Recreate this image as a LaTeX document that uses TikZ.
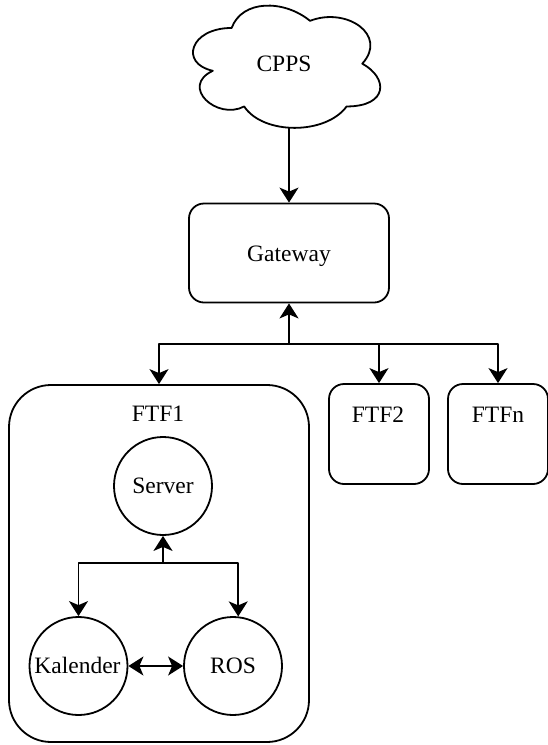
\documentclass[tikz,border=0pt]{standalone}
\usepackage{fontspec}
\setmainfont{Liberation Serif}
\usetikzlibrary{arrows.meta}
\begin{document}
\begin{tikzpicture}[x=1pt, y=-1pt, line width=1.8pt, line join=round,
  lbl/.style={anchor=base, inner sep=0pt, font=\fontsize{23.5}{28}\selectfont},
  box/.style={draw, rectangle, rounded corners=15pt, inner sep=0pt},
  bubble/.style={draw, circle, inner sep=0pt, minimum size=98pt},
  link/.style={-{Stealth[length=15pt, width=19pt, inset=4pt]}},
  both/.style={{Stealth[length=15pt, width=19pt, inset=4pt]}-{Stealth[length=15pt, width=19pt, inset=4pt]}}]

\useasboundingbox (0,0) rectangle (547,745);

% cloud outline (unit box scaled to the cloud's size)
\begin{scope}[shift={(179.4,-7.7)}, xscale=209, yscale=142.7]
  \draw (0.25,0.25) .. controls (0.05,0.25) and (0,0.5) .. (0.16,0.55)
        .. controls (0,0.66) and (0.18,0.9) .. (0.31,0.8)
        .. controls (0.4,1) and (0.7,1) .. (0.8,0.8)
        .. controls (1,0.8) and (1,0.6) .. (0.875,0.5)
        .. controls (1,0.3) and (0.8,0.1) .. (0.625,0.2)
        .. controls (0.5,0.05) and (0.3,0.05) .. (0.25,0.25) -- cycle;
\end{scope}
\node[lbl] (cpps) at (284,71) {CPPS};
\coordinate (cloudfoot) at (289,127);

% gateway
\node[box, minimum width=200pt, minimum height=99pt] (gw) at (289,253) {};
\node[lbl] (gwtext) at (289,261) {Gateway};

% vehicles
\node[box, rounded corners=42pt, minimum width=300pt, minimum height=357pt] (ftf1) at (159,563.5) {};
\node[lbl] (ftf1text) at (158,421) {FTF1};
\node[box, minimum width=100pt, minimum height=100pt] (ftf2) at (379,434) {};
\node[lbl] (ftf2text) at (378,422) {FTF2};
\node[box, minimum width=100pt, minimum height=100pt] (ftfn) at (498,434) {};
\node[lbl] (ftfntext) at (498,422) {FTFn};

% components inside FTF1
\node[bubble] (srv) at (163,486) {};
\node[lbl] (srvtext) at (163,493) {Server};
\node[bubble] (kal) at (78.5,666) {};
\node[lbl] (kaltext) at (77.5,673) {Kalender};
\node[bubble] (ros) at (233,666) {};
\node[lbl] (rostext) at (233,673) {ROS};

% connectors
\draw[link] (cloudfoot) -- (gw.north);
\coordinate (hub) at (289,344);
\draw[link] (hub) -- (gw.south);
\draw[link] (hub) -| (ftf1.north);
\draw[link] (hub) -| (ftf2.north);
\draw[link] (hub) -| (ftfn.north);

\coordinate (srvhub) at (163,563);
\draw[link] (srvhub) -- (srv.south);
\draw[link] (srvhub) -| (kal.north);
\draw[link] (srvhub) -| (ros.84);
\draw[both] (kal) -- (ros);
\end{tikzpicture}
\end{document}
